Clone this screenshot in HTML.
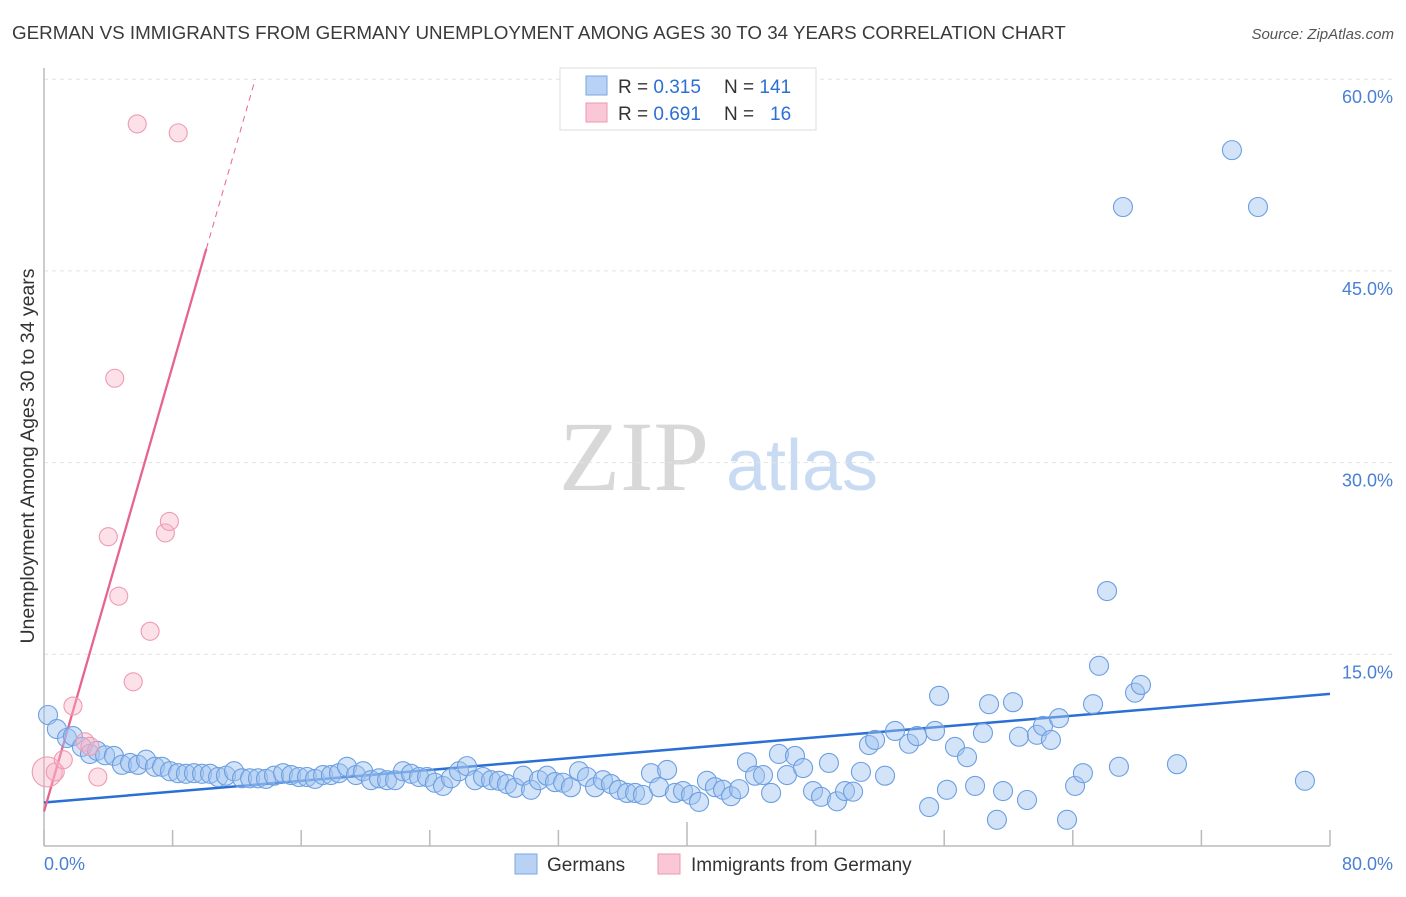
<!DOCTYPE html>
<html><head><meta charset="utf-8"><style>
body{margin:0;background:#fff;font-family:"Liberation Sans",sans-serif}
svg text{font-family:"Liberation Sans",sans-serif}
</style></head><body>
<svg id="chart" width="1406" height="892">
<text x="12" y="39" font-size="18.8" fill="#3a3a3a">GERMAN VS IMMIGRANTS FROM GERMANY UNEMPLOYMENT AMONG AGES 30 TO 34 YEARS CORRELATION CHART</text>
<text x="1394" y="39" font-size="15" fill="#555" font-style="italic" text-anchor="end">Source: ZipAtlas.com</text>
<text x="634" y="490" font-size="100" fill="#d8d8d8" text-anchor="middle" style="font-family:'Liberation Serif',serif">ZIP</text>
<text x="802" y="490" font-size="72" fill="#c9dbf3" text-anchor="middle">atlas</text>
<text transform="translate(34,456) rotate(-90)" font-size="19.5" fill="#333" text-anchor="middle">Unemployment Among Ages 30 to 34 years</text>
<g id="grid"></g><g id="axes"></g><g id="lines"></g><g id="pts"></g>
<g>
<rect x="560" y="68" width="256" height="62" fill="#fff" stroke="#ddd"/>
<rect x="586" y="76" width="21" height="19" fill="#b8d2f5" stroke="#7aa6e3"/>
<rect x="586" y="103" width="21" height="19" fill="#f9c7d6" stroke="#eb98b2"/>
<text x="618" y="93" font-size="19" fill="#333">R = <tspan fill="#2c6fd6">0.315</tspan><tspan x="724">N = </tspan><tspan fill="#2c6fd6">141</tspan></text>
<text x="618" y="120" font-size="19" fill="#333">R = <tspan fill="#2c6fd6">0.691</tspan><tspan x="724">N = </tspan><tspan x="770" fill="#2c6fd6">16</tspan></text>
</g>
<g>
<rect x="515" y="854" width="22" height="20" fill="#b8d2f5" stroke="#7aa6e3"/>
<text x="547" y="871" font-size="19" fill="#333">Germans</text>
<rect x="658" y="854" width="22" height="20" fill="#f9c7d6" stroke="#eb98b2"/>
<text x="691" y="871" font-size="19" fill="#333">Immigrants from Germany</text>
</g>
</svg>
<script>
const xTicks=[0,8,16,24,32,40,48,56,64,72,80];
const yTicks=[15,30,45,60];
const yTickLabels=["15.0%","30.0%","45.0%","60.0%"];
const xEndLabels=["0.0%","80.0%"];
const blueX=[0.25,0.8,1.43,1.8,2.36,2.86,3.3,3.8,4.35,4.85,5.35,5.85,6.35,6.9,7.34,7.84,8.34,8.83,9.33,9.83,10.33,10.83,11.32,11.82,12.32,12.82,13.31,13.81,14.31,14.87,15.37,15.86,16.36,16.86,17.36,17.85,18.35,18.85,19.41,19.85,20.34,20.84,21.34,21.84,22.33,22.83,23.33,23.83,24.32,24.82,25.32,25.82,26.31,26.81,27.31,27.81,28.3,28.8,29.3,29.8,30.3,30.79,31.29,31.79,32.29,32.78,33.28,33.78,34.28,34.77,35.27,35.77,36.27,36.77,37.26,37.76,38.26,38.76,39.25,39.75,40.25,40.75,41.24,41.74,42.24,42.74,43.24,43.73,44.23,44.73,45.23,45.72,46.22,46.72,47.22,47.84,48.34,48.83,49.33,49.83,50.33,50.82,51.32,51.7,52.32,52.94,53.81,54.31,55.06,55.43,55.68,56.17,56.67,57.42,57.92,58.41,58.79,59.28,59.66,60.28,60.65,61.15,61.77,62.15,62.64,63.14,63.64,64.14,64.63,65.26,65.63,66.13,66.87,67.12,67.87,68.24,70.48,73.9,75.52,78.44];
const blueY=[10.25,9.15,8.45,8.6,7.75,7.2,7.45,7.1,7.05,6.35,6.5,6.35,6.75,6.2,6.2,5.85,5.7,5.65,5.7,5.65,5.65,5.4,5.5,5.85,5.3,5.3,5.3,5.25,5.5,5.7,5.55,5.4,5.4,5.25,5.55,5.55,5.7,6.2,5.55,5.85,5.15,5.3,5.15,5.15,5.85,5.65,5.4,5.4,4.95,4.7,5.3,5.85,6.25,5.15,5.4,5.15,5.1,4.85,4.55,5.5,4.4,5.15,5.5,5.0,4.95,4.6,5.85,5.4,4.6,5.15,4.85,4.4,4.15,4.15,4.0,5.7,4.6,5.95,4.15,4.3,4.0,3.45,5.1,4.6,4.4,3.9,4.45,6.55,5.5,5.55,4.15,7.2,5.55,7.05,6.1,4.3,3.85,6.5,3.5,4.3,4.25,5.8,7.9,8.3,5.5,9.0,8.0,8.6,3.05,9.0,11.75,4.4,7.75,6.95,4.7,8.85,11.1,2.05,4.3,11.25,8.55,3.6,8.7,9.4,8.3,10.0,2.05,4.7,5.7,11.1,14.1,19.95,6.2,50.0,12.0,12.6,6.4,54.45,50.0,5.1];
const pinkX=[0.2,0.7,1.2,1.8,2.55,2.86,3.35,4.0,4.4,4.65,5.55,5.8,6.6,7.55,7.8,8.35];
const pinkY=[5.8,5.8,6.75,10.95,8.15,7.8,5.4,24.2,36.6,19.55,12.85,56.5,16.8,24.5,25.4,55.8];
const pinkR=[15,9,9,9,9,9,9,9,9,9,9,9,9,9,9,9];
const blueTrend=[3.4,11.9];
const pinkTrend=[2.7,4.36];
const sx=v=>44+v/80*1286;
const sy=v=>846-v/15*191.7;
const NS="http://www.w3.org/2000/svg";
function mk(tag,attrs,parent){const e=document.createElementNS(NS,tag);for(const k in attrs)e.setAttribute(k,attrs[k]);parent.appendChild(e);return e;}
const grid=document.getElementById('grid'),axes=document.getElementById('axes'),lines=document.getElementById('lines'),pts=document.getElementById('pts');
yTicks.forEach((t,i)=>{
 const g=mk('line',{x1:44,x2:1394,y1:sy(t),y2:sy(t),stroke:'#e2e2e2','stroke-dasharray':'4,4'},grid);
 
 
 const tx=mk('text',{x:1393,y:sy(t)+24,'font-size':18,fill:'#4a7fd4','text-anchor':'end'},axes);
 tx.textContent=yTickLabels[i];
 
 
});
const ax=mk('line',{x1:44,x2:1330,y1:846,y2:846,stroke:'#bbb','stroke-width':1.5},axes);


const ay=mk('line',{x1:44,x2:44,y1:68,y2:846,stroke:'#bbb','stroke-width':1.5},axes);


xTicks.forEach(t=>{
 const tk=mk('line',{x1:sx(t),x2:sx(t),y1:t===40?822:830,y2:846,stroke:'#bbb','stroke-width':1.5},axes);
 
 
});
[0,80].forEach((t,i)=>{
 const tx=mk('text',{x:i?1393:44,y:870,'font-size':18,fill:'#4a7fd4','text-anchor':i?'end':'start'},axes);
 tx.textContent=xEndLabels[i];
 
 
});
blueX.forEach((x,i)=>{
 const c=mk('circle',{cx:sx(x),cy:sy(blueY[i]),r:9.5,fill:'rgba(160,196,240,0.45)',stroke:'#6c9fe2','stroke-width':1.1},pts);
 
 
});
pinkX.forEach((x,i)=>{
 const c=mk('circle',{cx:sx(x),cy:sy(pinkY[i]),r:pinkR[i],fill:'rgba(247,180,200,0.4)',stroke:'#ee9ab4','stroke-width':1.1},pts);
 
 
});
const bl=mk('line',{x1:sx(0),y1:sy(blueTrend[0]),x2:sx(80),y2:sy(blueTrend[1]),stroke:'#2a6fd4','stroke-width':2.5},lines);


const pEnd=10.1, pTop=(60-pinkTrend[0])/pinkTrend[1];
const pl=mk('line',{x1:sx(0),y1:sy(pinkTrend[0]),x2:sx(pEnd),y2:sy(pinkTrend[0]+pinkTrend[1]*pEnd),stroke:'#e86490','stroke-width':2.3},lines);


const pd=mk('line',{x1:sx(pEnd),y1:sy(pinkTrend[0]+pinkTrend[1]*pEnd),x2:sx(pTop),y2:sy(60),stroke:'#e86490','stroke-width':1,'stroke-dasharray':'6,5'},lines);


</script>
</body></html>
